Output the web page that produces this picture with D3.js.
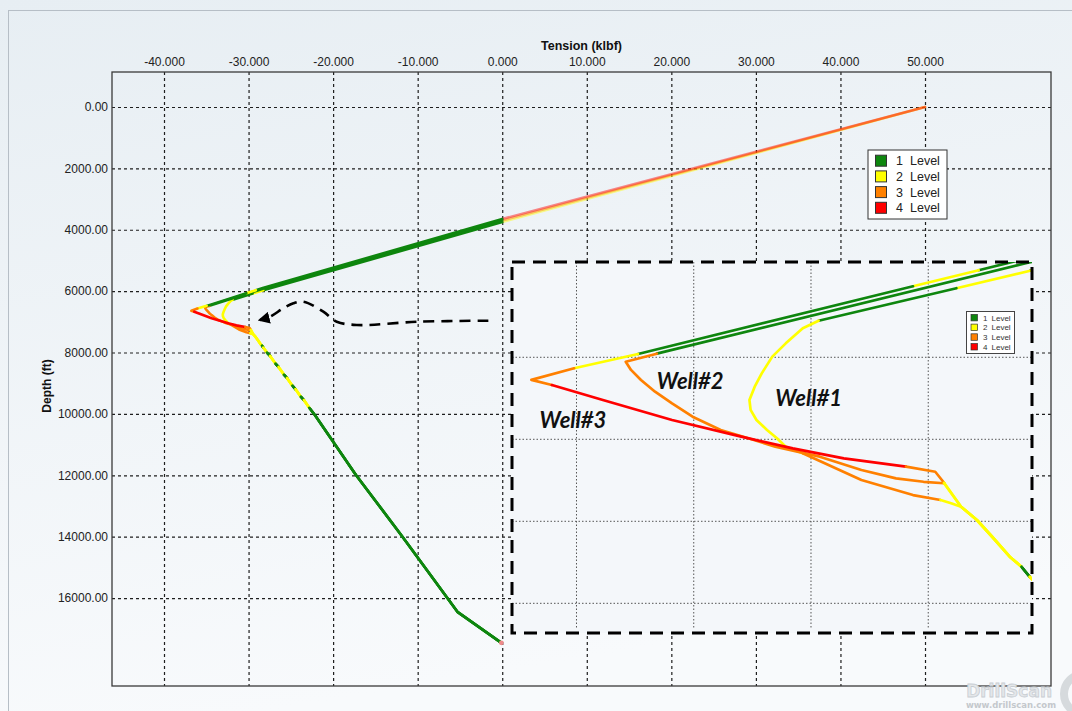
<!DOCTYPE html>
<html>
<head>
<meta charset="utf-8">
<script src="https://cdn.jsdelivr.net/npm/d3@7"></script>
<style>
  html, body { margin: 0; padding: 0; background: #eef2f6; }
  svg { display: block; font-family: "Liberation Sans", Arial, sans-serif; }
</style>
</head>
<body>
<svg id="chart" width="1072" height="711"></svg>
<script>
// ---------------- data ----------------
const levelNames  = ["1", "2", "3", "4"];
const levelColors = ["#0e860e", "#ffff00", "#ff8000", "#ff0000"];

const tensionTicks = [-40, -30, -20, -10, 0, 10, 20, 30, 40, 50];
const depthTicks   = [0, 2000, 4000, 6000, 8000, 10000, 12000, 14000, 16000];
const tensionDomain = [-46.15, 64.9];
const depthDomain   = [-1140, 18866];

// zoomed window around the compression peak
const insetTension = [-37.10, -28.23];
const insetDepth   = [5919, 8181];
const insetTensionTicks = [-36, -34, -32, -30];
const insetDepthTicks   = [6500, 7000, 7500, 8000];

// [tension klbf, depth ft, level of the segment ending at this point]
const well1 = [
  [50, 0, null], [0, 3750, 2], [-28.26, 5972, 1], [-29.52, 6079, 2], [-31.87, 6277, 1],
  [-32.14, 6323, 2], [-32.43, 6415, 2], [-32.66, 6496, 2], [-32.84, 6598, 2], [-32.96, 6679, 2],
  [-33.05, 6760, 2], [-33.03, 6821, 2], [-32.93, 6882, 2], [-32.75, 6943, 2], [-32.58, 6994, 2],
  [-32.43, 7045, 2], [-32.14, 7085, 2],
  [-31.14, 7248, 3], [-30.26, 7340, 3], [-29.79, 7370, 3],
  [-29.61, 7390, 2], [-29.44, 7411, 2]
];
const well2 = [
  [50, 0, null], [0, 3700, 3], [-28.32, 5925, 1], [-34.63, 6478, 1],
  [-35.16, 6527, 3], [-35.07, 6577, 3], [-34.90, 6638, 3], [-34.66, 6710, 3], [-34.37, 6781, 3],
  [-34.02, 6862, 3], [-33.54, 6943, 3], [-33.07, 6994, 3], [-32.61, 7045, 3], [-31.85, 7106, 3],
  [-31.14, 7187, 3], [-30.55, 7238, 3], [-30.08, 7259, 3], [-29.73, 7268, 3],
  [-29.44, 7411, 2]
];
const well3 = [
  [50, 0, null], [0, 3650, 4], [-28.32, 5897, 1], [-29.14, 5969, 1], [-30.26, 6067, 2],
  [-34.95, 6480, 1], [-36.04, 6567, 2], [-36.77, 6638, 3], [-36.42, 6669, 3],
  [-35.55, 6760, 4], [-34.37, 6882, 4], [-33.19, 6984, 4], [-32.31, 7055, 4], [-31.44, 7116, 4],
  [-30.38, 7167, 4], [-29.88, 7198, 3], [-29.73, 7265, 3],
  [-29.44, 7411, 2]
];
// common string below the point where the three wells join
const lowerSection = [
  [-29.17, 7492, 2], [-28.91, 7594, 2], [-28.61, 7716, 2], [-28.41, 7777, 2], [-28.27, 7838, 1],
  [-27.82, 8000, 2], [-27.46, 8110, 1], [-26.82, 8360, 2], [-26.46, 8470, 1], [-25.82, 8720, 2],
  [-25.46, 8830, 1], [-24.82, 9080, 2], [-24.46, 9190, 1], [-23.82, 9440, 2], [-23.46, 9550, 1],
  [-22.82, 9800, 2], [-22.18, 10030, 1], [-17.3, 11990, 1], [-11.8, 14000, 1], [-5.3, 16450, 1],
  [-0.1, 17460, 1]
];

const wellNames = ["Well#1", "Well#2", "Well#3"];
const wellLabelAt = [[-32.61, 6797], [-34.63, 6693], [-36.63, 6931]];

// callout path leading from the zoom box to the peak (tension, depth)
const calloutPath = [
  [-1.64, 6963], [-9.92, 6996], [-17.21, 7103], [-19.57, 6996], [-21.16, 6670],
  [-23.52, 6344], [-24.70, 6396], [-25.89, 6559], [-27.46, 6833], [-28.64, 6940]
];

// ---------------- layout ----------------
const W = 1072, H = 711;
const plot  = { left: 112, top: 72, right: 1051, bottom: 686 };
const inset = { left: 512, top: 262, right: 1032, bottom: 633 };
const FONT = "'Liberation Sans', Arial, sans-serif";

const svg = d3.select("#chart");
const defs = svg.append("defs");

const grad = defs.append("linearGradient").attr("id", "bgGrad")
  .attr("x1", 0).attr("y1", 0).attr("x2", 0.25).attr("y2", 1);
grad.append("stop").attr("offset", "0%").attr("stop-color", "#e7eef3");
grad.append("stop").attr("offset", "100%").attr("stop-color", "#f8fafc");

defs.append("clipPath").attr("id", "plotClip").append("rect")
  .attr("x", plot.left).attr("y", plot.top)
  .attr("width", plot.right - plot.left).attr("height", plot.bottom - plot.top);
defs.append("clipPath").attr("id", "insetClip").append("rect")
  .attr("x", inset.left).attr("y", inset.top)
  .attr("width", inset.right - inset.left).attr("height", inset.bottom - inset.top);

defs.append("marker").attr("id", "arrowHead")
  .attr("viewBox", "0 0 10 10").attr("refX", 8).attr("refY", 5)
  .attr("markerUnits", "userSpaceOnUse").attr("markerWidth", 12).attr("markerHeight", 12)
  .attr("orient", "auto")
  .append("path").attr("d", "M0,0 L10,5 L0,10 Z").attr("fill", "#000");

svg.append("rect").attr("width", W).attr("height", H).attr("fill", "url(#bgGrad)");
svg.append("rect").attr("x", 8.5).attr("y", 10.5).attr("width", W).attr("height", H)
  .attr("fill", "none").attr("stroke", "#b6bec6");

// ---------------- main chart ----------------
const x = d3.scaleLinear().domain(tensionDomain).range([plot.left, plot.right]);
const y = d3.scaleLinear().domain(depthDomain).range([plot.top, plot.bottom]);

const gx = svg.append("g").attr("transform", `translate(0,${plot.top})`)
  .call(d3.axisTop(x).tickValues(tensionTicks).tickFormat(d => d.toFixed(3))
    .tickSize(-(plot.bottom - plot.top)).tickPadding(6));
const gy = svg.append("g").attr("transform", `translate(${plot.left},0)`)
  .call(d3.axisLeft(y).tickValues(depthTicks).tickFormat(d => d.toFixed(2))
    .tickSize(-(plot.right - plot.left)).tickPadding(4));
[gx, gy].forEach(g => {
  g.attr("font-family", FONT).attr("font-size", 12);
  g.select(".domain").remove();
  g.selectAll(".tick line").attr("stroke", "#1e1e1e").attr("stroke-width", 1.2)
    .attr("stroke-dasharray", "3,3");
  g.selectAll(".tick text").attr("fill", "#222");
});

svg.append("text").attr("x", (plot.left + plot.right) / 2).attr("y", 50)
  .attr("text-anchor", "middle").attr("font-family", FONT).attr("font-size", 12.5)
  .attr("font-weight", "bold").attr("fill", "#111").text("Tension (klbf)");
svg.append("text").attr("transform", `translate(51,${(plot.top + plot.bottom) / 2 + 7}) rotate(-90)`)
  .attr("text-anchor", "middle").attr("font-family", FONT).attr("font-size", 12)
  .attr("font-weight", "bold").attr("fill", "#111").text("Depth (ft)");

svg.append("rect").attr("x", plot.left).attr("y", plot.top)
  .attr("width", plot.right - plot.left).attr("height", plot.bottom - plot.top)
  .attr("fill", "none").attr("stroke", "#3a3a3a").attr("stroke-width", 1.3);

// split a well into runs of constant level
function levelRuns(pts) {
  const out = [];
  let cur = null;
  for (let i = 1; i < pts.length; i++) {
    const lvl = pts[i][2];
    if (!cur || cur.level !== lvl) { cur = { level: lvl, pts: [pts[i - 1]] }; out.push(cur); }
    cur.pts.push(pts[i]);
  }
  return out;
}
const wells = [well1, well2, well3].map(w => w.concat(lowerSection));

function drawWells(g, sx, sy, width, tensionOpacity) {
  const line = d3.line().x(p => sx(p[0])).y(p => sy(p[1]));
  wells.forEach(w => {
    g.append("g").selectAll("path").data(levelRuns(w)).join("path")
      .attr("d", r => line(r.pts))
      .attr("fill", "none")
      .attr("stroke", r => levelColors[r.level - 1])
      .attr("stroke-opacity", r => d3.min(r.pts, p => p[0]) >= 0 ? tensionOpacity : 1)
      .attr("stroke-width", width)
      .attr("stroke-linejoin", "round")
      .attr("stroke-linecap", "round");
  });
}

const mainLines = svg.append("g").attr("clip-path", "url(#plotClip)");
drawWells(mainLines, x, y, 2.6, 0.45);
const bit = lowerSection[lowerSection.length - 1];
mainLines.append("circle").attr("cx", x(bit[0])).attr("cy", y(bit[1])).attr("r", 2.4)
  .attr("fill", "#ee8a8a");

// main legend
const leg = svg.append("g").attr("font-family", FONT).attr("font-size", 12.5).attr("fill", "#222");
leg.append("rect").attr("x", 868).attr("y", 150).attr("width", 79).attr("height", 69)
  .attr("fill", "#ffffff").attr("stroke", "#333");
levelNames.forEach((n, i) => {
  const cy = 160.7 + i * 15.7;
  leg.append("rect").attr("x", 875.5).attr("y", cy - 5.5).attr("width", 11).attr("height", 11)
    .attr("fill", levelColors[i]).attr("stroke", "#333");
  leg.append("text").attr("x", 896).attr("y", cy + 4.5).text(n);
  leg.append("text").attr("x", 910).attr("y", cy + 4.5).text("Level");
});

// ---------------- zoomed view ----------------
const xi = d3.scaleLinear().domain(insetTension).range([inset.left, inset.right]);
const yi = d3.scaleLinear().domain(insetDepth).range([inset.top, inset.bottom]);

const ins = svg.append("g");
ins.append("rect").attr("x", inset.left).attr("y", inset.top)
  .attr("width", inset.right - inset.left).attr("height", inset.bottom - inset.top)
  .attr("fill", "#f4f7fa");
const insBody = ins.append("g").attr("clip-path", "url(#insetClip)");
insBody.append("g").selectAll("line").data(insetTensionTicks).join("line")
  .attr("x1", d => xi(d)).attr("x2", d => xi(d))
  .attr("y1", inset.top).attr("y2", inset.bottom - 4)
  .attr("stroke", "#555").attr("stroke-width", 1).attr("stroke-dasharray", "1.5,2");
insBody.append("g").selectAll("line").data(insetDepthTicks).join("line")
  .attr("y1", d => yi(d)).attr("y2", d => yi(d))
  .attr("x1", inset.left).attr("x2", inset.right)
  .attr("stroke", "#555").attr("stroke-width", 1).attr("stroke-dasharray", "1.5,2");
drawWells(insBody, xi, yi, 2.7, 1);

insBody.append("g").selectAll("text").data(wellNames).join("text")
  .attr("x", (d, i) => xi(wellLabelAt[i][0]))
  .attr("y", (d, i) => yi(wellLabelAt[i][1]))
  .attr("font-family", "Lato, 'Open Sans', sans-serif").attr("font-size", 22)
  .attr("font-weight", "bold").attr("font-style", "italic").attr("fill", "#111")
  .text(d => d);

// small legend inside the zoomed view
const leg2 = ins.append("g").attr("font-family", FONT).attr("font-size", 8).attr("fill", "#333");
leg2.append("rect").attr("x", 966.5).attr("y", 311.5).attr("width", 48).attr("height", 42)
  .attr("fill", "#ffffff").attr("stroke", "#444");
levelNames.forEach((n, i) => {
  const cy = 317.7 + i * 9.7;
  leg2.append("rect").attr("x", 971).attr("y", cy - 3.3).attr("width", 6.5).attr("height", 6.5)
    .attr("fill", levelColors[i]).attr("stroke", "#333").attr("stroke-width", 0.7);
  leg2.append("text").attr("x", 983).attr("y", cy + 3).text(n);
  leg2.append("text").attr("x", 991.5).attr("y", cy + 3).text("Level");
});

ins.append("rect").attr("x", inset.left).attr("y", inset.top)
  .attr("width", inset.right - inset.left).attr("height", inset.bottom - inset.top)
  .attr("fill", "none").attr("stroke", "#000").attr("stroke-width", 3)
  .attr("stroke-dasharray", "13,8");

// callout arrow
svg.append("path")
  .attr("d", d3.line().x(p => x(p[0])).y(p => y(p[1])).curve(d3.curveCatmullRom)(calloutPath))
  .attr("fill", "none").attr("stroke", "#000").attr("stroke-width", 2.6)
  .attr("stroke-dasharray", "11,7").attr("marker-end", "url(#arrowHead)");

// brand mark
const brand = svg.append("g").attr("font-family", "Verdana, 'DejaVu Sans', sans-serif")
  .attr("font-weight", "bold");
brand.append("text").attr("x", 1052).attr("y", 697).attr("text-anchor", "end")
  .attr("font-size", 17).attr("fill", "#e4e7ea").attr("stroke", "#c9ced3").attr("stroke-width", 0.8)
  .text("DrillScan");
brand.append("text").attr("x", 1056).attr("y", 708).attr("text-anchor", "end")
  .attr("font-size", 8.5).attr("fill", "#c4c8cc").text("www.drillscan.com");
brand.append("circle").attr("cx", 1084).attr("cy", 694).attr("r", 20)
  .attr("fill", "none").attr("stroke", "#d6dadd").attr("stroke-width", 8);
</script>
</body>
</html>
